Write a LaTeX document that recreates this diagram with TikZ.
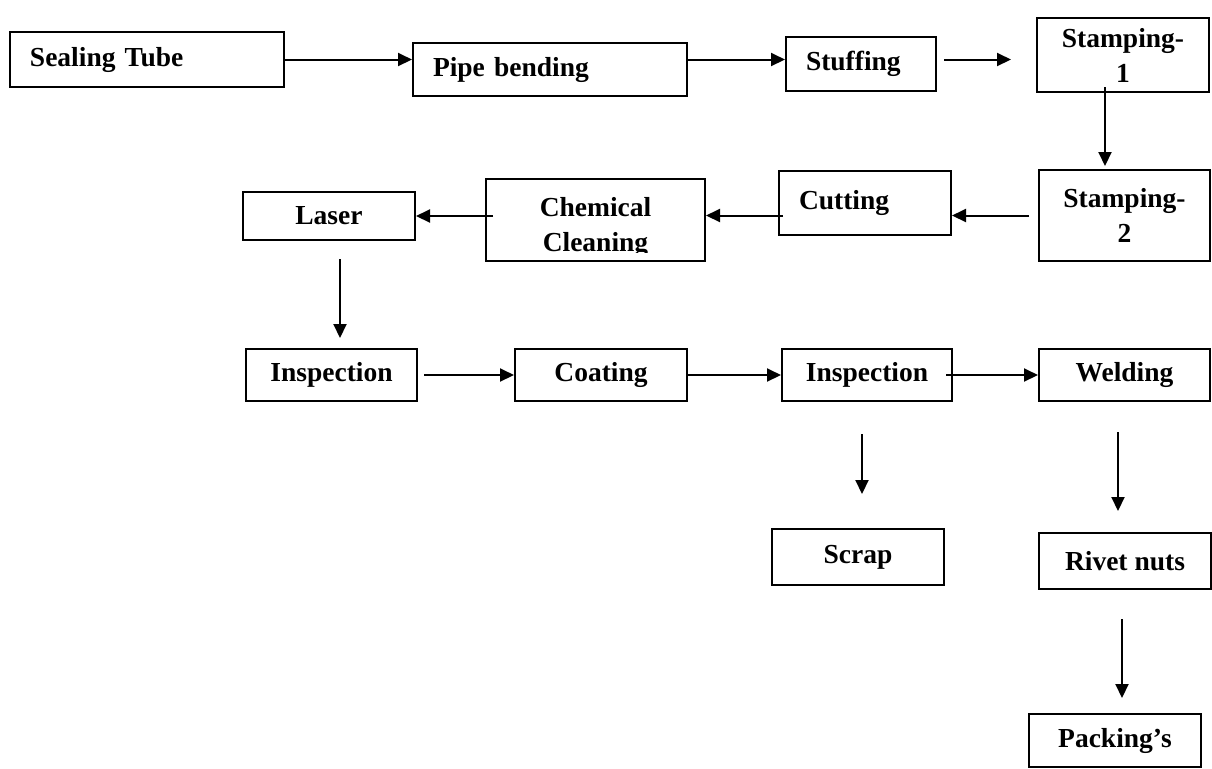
\documentclass[tikz,border=0pt]{standalone}
\usepackage{fontspec}
\setmainfont{Liberation Serif}
\usetikzlibrary{arrows.meta}
\tikzstyle{box} = [
    rectangle, draw=black, line width=1pt, minimum width=86pt,
    inner sep=1pt, align=center,
    font=\fontsize{13.75}{17.5}\selectfont\bfseries
]
\tikzstyle{leftbox} = [box, align=left, minimum width=0pt, inner xsep=10pt]
\tikzstyle{arrow} = [-{Triangle[length=7pt, width=6.5pt]}, line width=1pt]

\begin{document}
\begin{tikzpicture}[x=0.5pt, y=-0.5pt]
    \useasboundingbox (0,0) rectangle (1212,768);

    % First row
    \node[leftbox, text width=117pt, minimum height=27.5pt] (seal) at (147,59.5) {Sealing Tube};
    \node[leftbox, text width=117pt, minimum height=26.5pt] (pipe) at (550,69.5) {Pipe bending};
    \node[leftbox, text width=55pt, minimum height=27pt] (stuff) at (861,64) {Stuffing};
    \node[box, minimum height=37pt] (stamp1) at (1123,55) {Stamping-\\1};

    % Second row
    \node[box, minimum width=85.5pt, minimum height=45.5pt] (stamp2) at (1124.5,215.5) {Stamping-\\2};
    \node[leftbox, text width=66pt, minimum height=32pt] (cut) at (865,203) {Cutting};
    \node[box, minimum width=109.5pt, minimum height=41pt] (chem) at (595.5,220) {};
    \begin{scope}
        \clip (chem.north west) rectangle ([yshift=5pt]chem.south east);
        \node[box, draw=none, yshift=-3.5pt] (chemtext) at (chem) {Chemical\\Cleaning};
    \end{scope}
    \node[box, minimum height=24pt] (laser) at (329,216) {Laser};

    % Third row
    \node[box, minimum width=85.5pt, minimum height=26pt] (insp1) at (331.5,375) {Inspection};
    \node[box, minimum height=26pt] (coat) at (601,375) {Coating};
    \node[box, minimum width=85pt, minimum height=26pt] (insp2) at (867,375) {Inspection};
    \node[box, minimum width=85.5pt, minimum height=26pt] (weld) at (1124.5,375) {Welding};

    % Outputs
    \node[box, minimum height=28pt] (scrap) at (858,557) {Scrap};
    \node[box, minimum height=28pt] (rivet) at (1125,561) {Rivet nuts};
    \node[box, minimum height=26.5pt] (pack) at (1115,740.5) {Packing’s};

    % Arrows
    \draw[arrow] (seal.east) -- (seal.east -| pipe.west);
    \draw[arrow] (pipe.east |- seal.east) -- (seal.east -| stuff.west);
    \draw[arrow, shorten <=3.5pt, shorten >=12.5pt] (stuff.east |- seal.east) -- (seal.east -| stamp1.west);
    \draw[arrow, shorten <=-3pt, shorten >=1.5pt] ([xshift=-9pt]stamp1.south) -- ([xshift=-9pt]stamp1.south |- stamp2.north);
    \draw[arrow, shorten <=4.5pt] (stamp2.west) -- (stamp2.west -| cut.east);
    \draw[arrow, shorten <=-2.5pt] (cut.west |- stamp2.west) -- (stamp2.west -| chem.east);
    \draw[arrow, shorten <=-4pt] (chem.west |- laser.east) -- (laser.east);
    \draw[arrow, shorten <=9pt, shorten >=5pt] ([xshift=5.5pt]laser.south) -- ([xshift=5.5pt]laser.south |- insp1.north);
    \draw[arrow, shorten <=3pt] (insp1.east) -- (coat.west);
    \draw[arrow] (coat.east) -- (insp2.west);
    \draw[arrow, shorten <=-3.5pt] (insp2.east) -- (weld.west);
    \draw[arrow, shorten <=16pt, shorten >=17pt] ([xshift=-2.5pt]insp2.south) -- ([xshift=-2.5pt]insp2.south |- scrap.north);
    \draw[arrow, shorten <=15pt, shorten >=10.5pt] ([xshift=-3.25pt]weld.south) -- ([xshift=-3.25pt]weld.south |- rivet.north);
    \draw[arrow, shorten <=14.5pt, shorten >=7.5pt] ([xshift=-1.5pt]rivet.south) -- ([xshift=-1.5pt]rivet.south |- pack.north);

\end{tikzpicture}
\end{document}
